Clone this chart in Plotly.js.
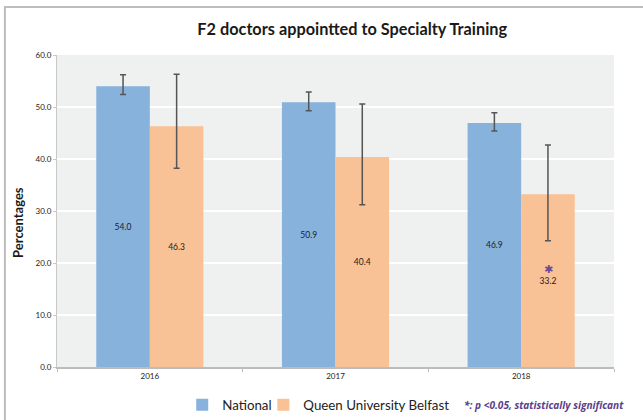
<!DOCTYPE html>
<html>
<head>
<meta charset="utf-8">
<script src="https://cdn.plot.ly/plotly-3.0.1.min.js"></script>
<style>html,body{margin:0;padding:0;background:#fff;}#chart{width:643px;height:420px;}</style>
</head>
<body>
<div id="chart"></div>
<script>
const years = ["2016", "2017", "2018"];
const nationalValues = [54.0, 50.9, 46.9];
const nationalUpper = [56.2, 52.9, 48.9];
const nationalLower = [52.4, 49.3, 45.4];
const qubValues = [46.3, 40.4, 33.2];
const qubUpper = [56.3, 50.6, 42.7];
const qubLower = [38.2, 31.2, 24.3];
const yTicks = [0, 10, 20, 30, 40, 50, 60];

const FONT = "Lato, 'Open Sans', sans-serif";

function plus(v, hi) { return v.map((x, i) => +(hi[i] - x).toFixed(2)); }
function minus(v, lo) { return v.map((x, i) => +(x - lo[i]).toFixed(2)); }

const errStyle = {type: 'data', symmetric: false, color: '#555555', thickness: 1.5, width: 3};

const traces = [
  {
    type: 'bar', name: 'National', x: years, y: nationalValues,
    marker: {color: '#86b2dc'},
    text: nationalValues.map(v => v.toFixed(1)),
    textposition: 'inside', insidetextanchor: 'middle',
    textfont: {family: FONT, size: 8.5, color: '#222'},
    error_y: Object.assign({array: plus(nationalValues, nationalUpper), arrayminus: minus(nationalValues, nationalLower)}, errStyle),
    hoverinfo: 'none',
    legend: 'legend'
  },
  {
    type: 'bar', name: 'Queen University Belfast', x: years, y: qubValues,
    marker: {color: '#f9c196'},
    text: qubValues.map(v => v.toFixed(1)),
    textposition: 'inside', insidetextanchor: 'middle',
    textfont: {family: FONT, size: 8.5, color: '#222'},
    error_y: Object.assign({array: plus(qubValues, qubUpper), arrayminus: minus(qubValues, qubLower)}, errStyle),
    hoverinfo: 'none',
    legend: 'legend2'
  }
];

const legendBase = {
  orientation: 'h', xanchor: 'left',
  y: -0.122, yanchor: 'middle',
  font: {family: FONT, size: 13.3, color: '#222'},
  itemwidth: 30,
  bgcolor: 'rgba(0,0,0,0)'
};

const layout = {
  width: 643, height: 420,
  margin: {l: 57, r: 29, t: 55, b: 53, pad: 0, autoexpand: false},
  paper_bgcolor: '#ffffff',
  plot_bgcolor: '#eff0f0',
  font: {family: FONT, color: '#222'},
  title: {
    text: '<b>F2 doctors appointted to Specialty Training</b>',
    font: {family: FONT, size: 16.3, color: '#1a1a1a'},
    x: 0.53, xref: 'paper', xanchor: 'center',
    y: 0.93, yref: 'container', yanchor: 'middle'
  },
  barmode: 'group',
  bargap: 0.423,
  bargroupgap: 0,
  xaxis: {
    type: 'category',
    tickfont: {family: FONT, size: 8, color: '#222'},
    showline: true, linecolor: '#bcbcbc', linewidth: 2,
    ticks: 'outside', tickson: 'boundaries', ticklen: 3, tickcolor: '#bcbcbc',
    showgrid: false, fixedrange: true
  },
  yaxis: {
    range: [0, 60],
    tickvals: yTicks,
    ticktext: yTicks.map(v => v.toFixed(1)),
    tickfont: {family: FONT, size: 8, color: '#222'},
    showline: true, linecolor: '#c8c8c8', linewidth: 1,
    ticks: 'outside', ticklen: 3, tickcolor: '#c8c8c8',
    gridcolor: '#ffffff', gridwidth: 1.5,
    zeroline: false,
    fixedrange: true
  },
  showlegend: true,
  legend: Object.assign({}, legendBase, {x: (182 - 57) / 556}),
  legend2: Object.assign({}, legendBase, {x: (263 - 57) / 556}),
  annotations: [
    {
      text: '<b>Percentages</b>',
      xref: 'paper', yref: 'paper',
      x: (18 - 57) / 556, y: (367 - 222) / 312,
      xanchor: 'center', yanchor: 'middle', textangle: -90,
      showarrow: false,
      font: {family: FONT, size: 13, color: '#1a1a1a'}
    },
    {
      text: '<b><i>*: p &lt;0.05, statistically significant</i></b>',
      xref: 'paper', yref: 'paper',
      x: (461 - 57) / 556, y: -0.122, xanchor: 'left', yanchor: 'middle',
      showarrow: false,
      font: {family: "'Open Sans', sans-serif", size: 10.1, color: '#5b3e8a'}
    },
    {
      text: '✱',
      xref: 'x', yref: 'y',
      x: 2.145, y: 17.1, xanchor: 'center', yanchor: 'bottom',
      showarrow: false,
      font: {family: "'DejaVu Sans', sans-serif", size: 11, color: '#6b4a9a'}
    }
  ],
  shapes: [
    {
      type: 'rect', xref: 'paper', yref: 'paper',
      x0: (5 - 57) / 556, x1: 1.2,
      y0: -0.3, y1: (367 - 7) / 312,
      line: {color: '#bdbdbd', width: 2},
      fillcolor: 'rgba(0,0,0,0)',
      layer: 'below'
    }
  ]
};

Plotly.newPlot('chart', traces, layout, {displayModeBar: false, staticPlot: true});
</script>
</body>
</html>
